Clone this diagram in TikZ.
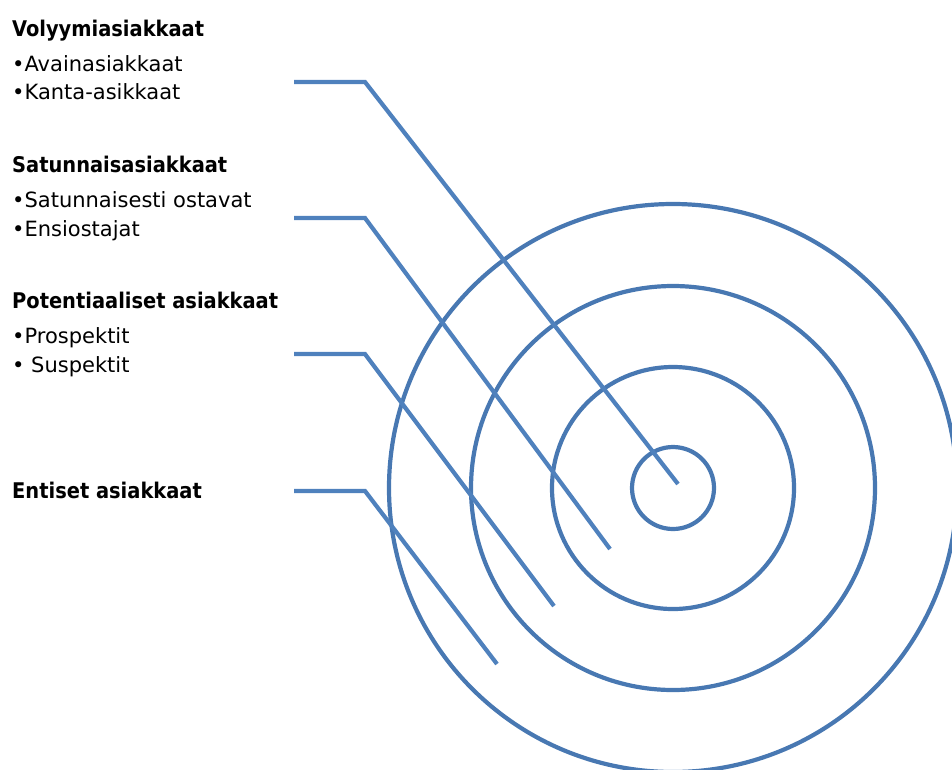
\documentclass[tikz,border=0pt]{standalone}
\usepackage{fontspec}
\setmainfont{DejaVu Sans}
\newfontfamily\headfont{DejaVu Sans Condensed}
\usetikzlibrary{positioning}
\definecolor{ringblue}{RGB}{72,120,178}
\definecolor{lineblue}{RGB}{79,129,189}

\begin{document}
\begin{tikzpicture}[x=1pt, y=-1pt, font=\fontsize{21}{28}\selectfont,
        head/.style={anchor=base west, inner sep=0pt, font=\fontsize{21.6}{28}\selectfont\headfont\bfseries},
        item/.style={anchor=base west, inner sep=0pt},
        ring/.style={draw=ringblue, line width=4.2pt},
        link/.style={draw=lineblue, line width=4.2pt}]
      \useasboundingbox (0,0) rectangle (952,769);
      % labels
      \node[head] (volyymi) at (12,36) {Volyymiasiakkaat};
      \node[item] (avain) at (12,71) {•Avainasiakkaat};
      \node[item] (kanta) at (12,99) {•Kanta-asikkaat};
      \node[head] (satunnais) at (12,172) {Satunnaisasiakkaat};
      \node[item] (ostavat) at (12,207) {•Satunnaisesti ostavat};
      \node[item] (ensi) at (12,236) {•Ensiostajat};
      \node[head] (potent) at (12,308) {Potentiaaliset asiakkaat};
      \node[item] (prosp) at (12,343) {•Prospektit};
      \node[item] (susp) at (12,372) {• Suspektit};
      \node[head] (entiset) at (12,498) {Entiset asiakkaat};
      % rings
      \coordinate (center) at (673,488);
      \draw[ring] (center) circle[radius=41pt];
      \draw[ring] (center) circle[radius=121pt];
      \draw[ring] (center) circle[radius=202pt];
      \draw[ring] (center) circle[radius=284pt];
      % connectors
      \coordinate (v-start) at (294,82);
      \coordinate (v-bend) at (365,82);
      \coordinate (v-end) at (678,484);
      \coordinate (s-start) at (294,218);
      \coordinate (s-bend) at (365,218);
      \coordinate (s-end) at (610,549);
      \coordinate (p-start) at (294,354);
      \coordinate (p-bend) at (365,354);
      \coordinate (p-end) at (554,606);
      \coordinate (e-start) at (294,491);
      \coordinate (e-bend) at (365,491);
      \coordinate (e-end) at (497,664);
      \draw[link] (v-start) -- (v-bend) -- (v-end);
      \draw[link] (s-start) -- (s-bend) -- (s-end);
      \draw[link] (p-start) -- (p-bend) -- (p-end);
      \draw[link] (e-start) -- (e-bend) -- (e-end);
    \end{tikzpicture}
\end{document}
